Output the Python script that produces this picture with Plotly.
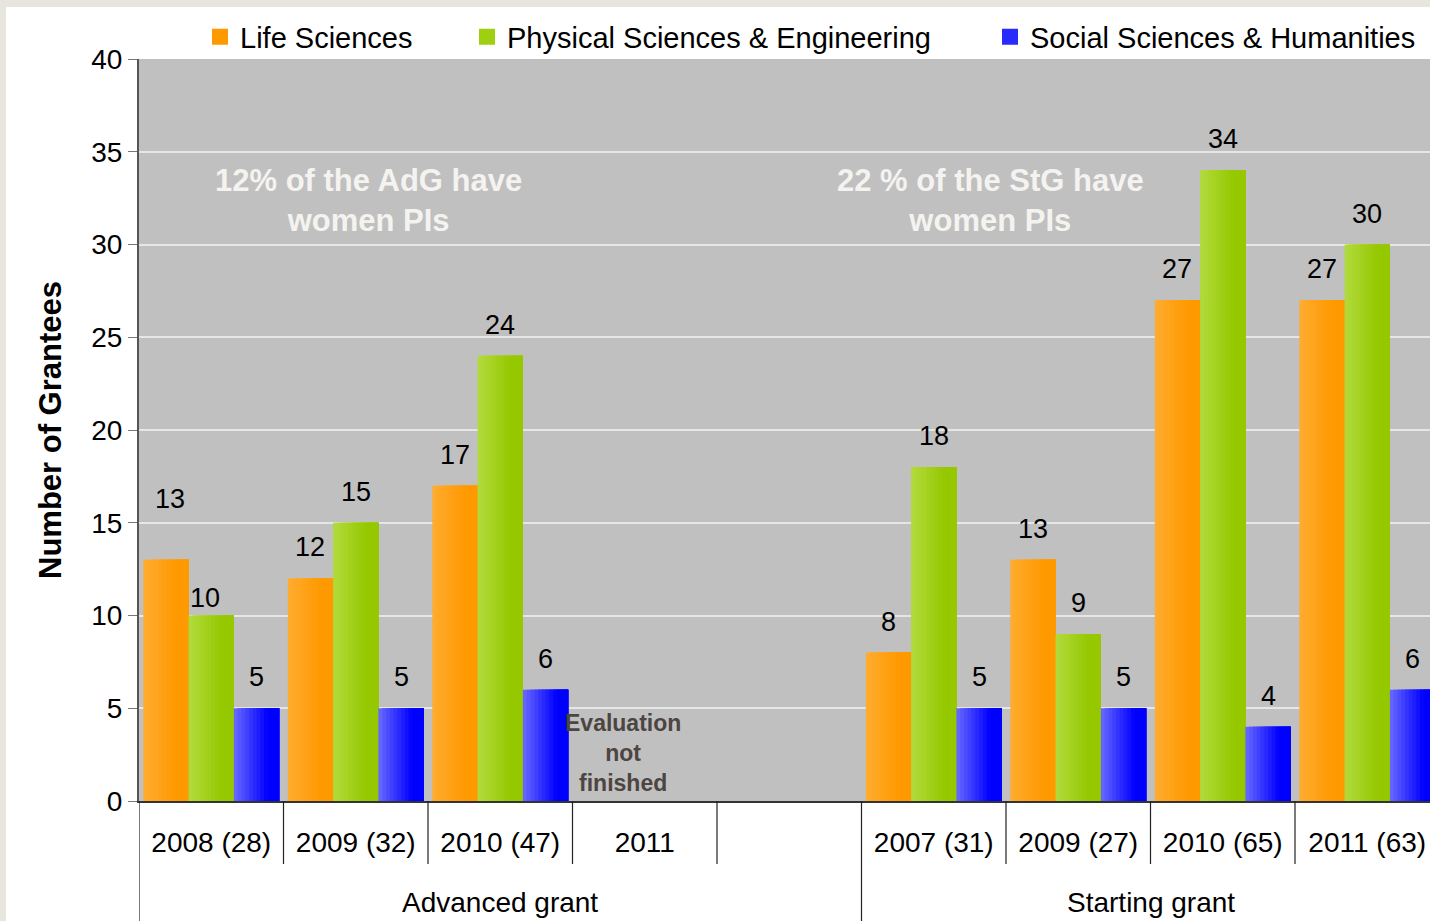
import plotly.graph_objects as go

# data
categories = ["2008 (28)", "2009 (32)", "2010 (47)", "2011", "",
              "2007 (31)", "2009 (27)", "2010 (65)", "2011 (63)"]
groups = ["Advanced grant", "Starting grant"]
group_slots = [(0, 4), (5, 8)]

series_names = ["Life Sciences", "Physical Sciences & Engineering", "Social Sciences & Humanities"]
life_sciences = [13, 12, 17, None, None, 8, 13, 27, 27]
physical_sciences = [10, 15, 24, None, None, 18, 9, 34, 30]
social_sciences = [5, 5, 6, None, None, 5, 5, 4, 6]
series_values = [life_sciences, physical_sciences, social_sciences]

notes = ["12% of the AdG have<br>women PIs", "22 % of the StG have<br>women PIs"]
pending_note = "Evaluation<br>not<br>finished"

# style
FONT = "Liberation Sans, Arial, sans-serif"
grad = [("#ffab2e", "#ff9900"), ("#b0da3a", "#96c800"), ("#6464ff", "#0000ff")]
legend_col = ["#ff9900", "#9fd010", "#2a2aff"]
W, H = 1430, 921
L, T, B = 139, 59, 120
slot_px = 144.5
plot_w = W - L
plot_h = H - T - B
x_hi = -0.5 + plot_w / slot_px


def mix(c1, c2, t):
    a = [int(c1[i:i + 2], 16) for i in (1, 3, 5)]
    b = [int(c2[i:i + 2], 16) for i in (1, 3, 5)]
    return "#" + "".join("%02x" % round(a[j] + (b[j] - a[j]) * t) for j in range(3))


def px_x(px):
    return (px - L) / plot_w


def px_y(py):
    return (H - B - py) / plot_h


fig = go.Figure()

# bars drawn as overlapping slices to get the left-to-right shading
bar_w = (1 - 0.06) / 3
steps = 12
xs = list(range(len(categories)))
for s, vals in enumerate(series_values):
    start = -0.47 + s * bar_w
    for k in range(steps):
        fig.add_trace(go.Bar(
            x=xs, y=vals,
            offset=start + k * bar_w / steps,
            width=bar_w - k * bar_w / steps,
            marker=dict(color=mix(grad[s][0], grad[s][1], min(1, k / (steps * 0.7))), line=dict(width=0)),
            name=series_names[s],
            showlegend=False,
            hoverinfo="skip" if k < steps - 1 else None,
        ))

# legend entries (bigger squares than the bar legend symbol)
for s, name in enumerate(series_names):
    fig.add_trace(go.Scatter(
        x=[None], y=[None], mode="markers", name=name,
        marker=dict(symbol="square", size=16, color=legend_col[s], line=dict(width=0)),
        legendwidth=[222, 478, 385][s],
    ))

# value labels
nudges = {(0, 0): (4, 30), (1, 0): (-6, -13)}
annotations = []
for s, vals in enumerate(series_values):
    for i, v in enumerate(vals):
        if v is None:
            continue
        dx, dy = nudges.get((s, i), (0, 0))
        annotations.append(dict(
            x=i - 0.47 + bar_w * (s + 0.5), y=v, text=str(v), showarrow=False,
            xshift=dx, yshift=31 + dy, font=dict(size=27, color="black", family=FONT)))

annotations.append(dict(x=1.085, y=32.37, text=notes[0], showarrow=False,
                        font=dict(size=31, color="#f5f3f0", family=FONT, weight="bold")))
annotations.append(dict(x=5.396, y=32.37, text=notes[1], showarrow=False,
                        font=dict(size=31, color="#f5f3f0", family=FONT, weight="bold")))
annotations.append(dict(x=2.85, y=2.6, text=pending_note, showarrow=False,
                        font=dict(size=23, color="#4c4541", family=FONT, weight="bold")))

for g, (a, b) in zip(groups, group_slots):
    annotations.append(dict(x=(a + b) / 2, y=px_y(902), xref="x", yref="paper", text=g,
                            yanchor="middle", showarrow=False,
                            font=dict(size=28, color="black", family=FONT)))

shapes = []
# category separators
for i in range(len(categories) + 1):
    xb = i - 0.5
    long_line = xb in (-0.5, 4.5)
    shapes.append(dict(type="line", xref="x", yref="paper", x0=xb, x1=xb, y0=0,
                       y1=px_y(921 if long_line else 864),
                       line=dict(color="#222222", width=1.2)))
# outer frame strips
shapes.append(dict(type="rect", xref="paper", yref="paper", x0=px_x(0), x1=px_x(6),
                   y0=px_y(921), y1=px_y(0), line=dict(width=0), fillcolor="#e8e5df"))
shapes.append(dict(type="rect", xref="paper", yref="paper", x0=px_x(0), x1=px_x(1430),
                   y0=px_y(7), y1=px_y(0), line=dict(width=0), fillcolor="#e8e5df"))

fig.update_layout(
    width=W, height=H,
    margin=dict(l=L, r=0, t=T, b=B),
    barmode="overlay",
    paper_bgcolor="white",
    plot_bgcolor="#c0c0c0",
    font=dict(family=FONT, size=27, color="black"),
    showlegend=True,
    legend=dict(orientation="h", x=px_x(200), xanchor="left", y=px_y(37), yanchor="middle",
                font=dict(size=29, family=FONT), bgcolor="rgba(0,0,0,0)", traceorder="normal"),
    annotations=annotations,
    shapes=shapes,
    xaxis=dict(range=[-0.5, x_hi], tickvals=xs, ticktext=categories, ticks="",
               showgrid=False, zeroline=False, showline=True, linecolor="#333333", linewidth=1.5,
               ticklabelstandoff=16, tickfont=dict(size=28, family=FONT), fixedrange=True),
    yaxis=dict(range=[0, 40], dtick=5, ticks="outside", ticklen=9, tickcolor="#777777",
               showgrid=True, gridcolor="#e6e6e6", gridwidth=1.5, zeroline=False,
               showline=True, linecolor="#555555", linewidth=2,
               tickfont=dict(size=28, family=FONT),
               title=dict(text="<b>Number of Grantees</b>", font=dict(size=31, family=FONT), standoff=20)),
)

fig.write_html("out.html", config={"displayModeBar": False},
               post_script="document.body.style.margin='0';document.body.style.overflow='hidden';")
